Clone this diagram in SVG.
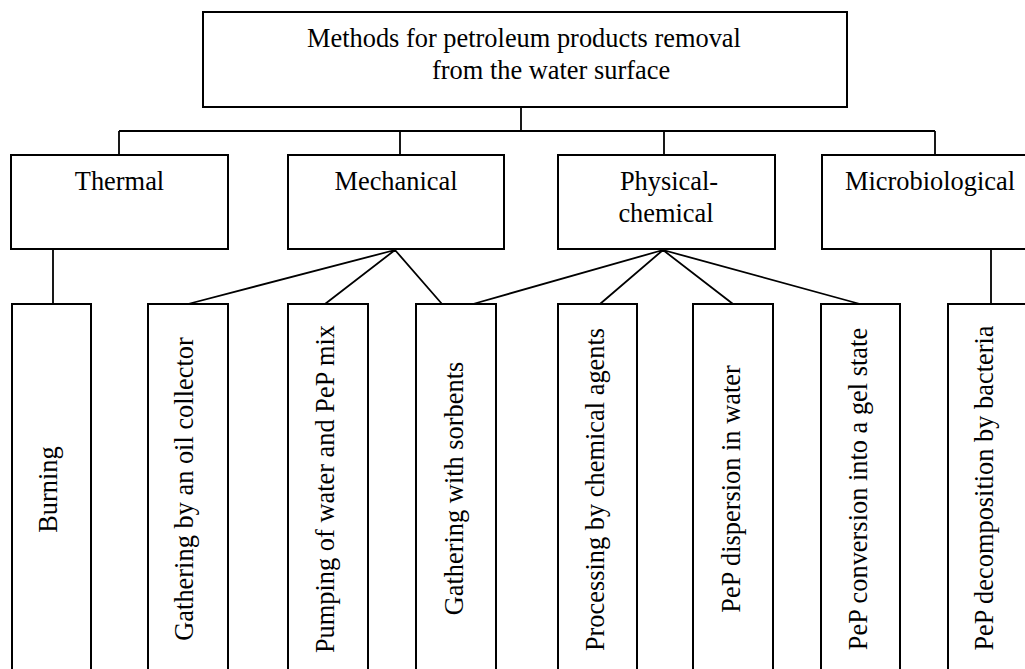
<svg xmlns="http://www.w3.org/2000/svg" width="1025" height="669" viewBox="0 0 1025 669">
<style>
.box{fill:#fff;stroke:#000;stroke-width:2}
.ln{fill:none;stroke:#000;stroke-width:1.8}
text{font-family:"Liberation Serif","Times New Roman",serif;font-size:26.4px;fill:#000}
.c{text-anchor:middle}
</style>
<rect width="1025" height="669" fill="#fff"/>
<g id="connectors">
<path class="ln" d="M521,107V131M119,131H935M119,131V155M400,131V155M664,131V155M935,131V155"/>
<path class="ln" d="M53,249V304M991,249V304"/>
<path class="ln" d="M395,250L188,304M395,250L325,304M395,250L442,304"/>
<path class="ln" d="M663,250L473,304M663,250L600,304M663,250L733,304M663,250L860,304"/>
</g>
<g id="root"><rect class="box" x="203" y="12" width="644" height="95"/>
<text x="307" y="47">Methods for petroleum products removal</text>
<text x="432" y="79">from the water surface</text></g>
<g id="thermal"><rect class="box" x="11" y="155" width="217" height="94"/><text class="c" x="119.5" y="190">Thermal</text></g>
<g id="mechanical"><rect class="box" x="288" y="155" width="216" height="94"/><text class="c" x="396" y="190">Mechanical</text></g>
<g id="physchem"><rect class="box" x="558" y="155" width="217" height="94"/><text class="c" x="669" y="190">Physical-</text><text class="c" x="666" y="222">chemical</text></g>
<g id="micro"><rect class="box" x="822" y="155" width="210" height="94"/><text class="c" x="930" y="190">Microbiological</text></g>
<g id="burning"><rect class="box" x="12" y="304" width="79" height="380"/><text class="c" transform="translate(57,489.5) rotate(-90)">Burning</text></g>
<g id="oilcollector"><rect class="box" x="148" y="304" width="80" height="380"/><text class="c" transform="translate(193,489) rotate(-90)">Gathering by an oil collector</text></g>
<g id="pumping"><rect class="box" x="288" y="304" width="80" height="380"/><text class="c" transform="translate(334,489) rotate(-90)">Pumping of water and PeP mix</text></g>
<g id="sorbents"><rect class="box" x="416" y="304" width="80" height="380"/><text class="c" transform="translate(463,488.5) rotate(-90)">Gathering with sorbents</text></g>
<g id="chemagents"><rect class="box" x="558" y="304" width="79" height="380"/><text class="c" transform="translate(604,489.5) rotate(-90)">Processing by chemical agents</text></g>
<g id="dispersion"><rect class="box" x="693" y="304" width="80" height="380"/><text class="c" transform="translate(740,489) rotate(-90)">PeP dispersion in water</text></g>
<g id="gel"><rect class="box" x="821" y="304" width="79" height="380"/><text class="c" transform="translate(867,489) rotate(-90)">PeP conversion into a gel state</text></g>
<g id="bacteria"><rect class="box" x="948" y="304" width="79" height="380"/><text class="c" transform="translate(993,488) rotate(-90)">PeP decomposition by bacteria</text></g>
</svg>
